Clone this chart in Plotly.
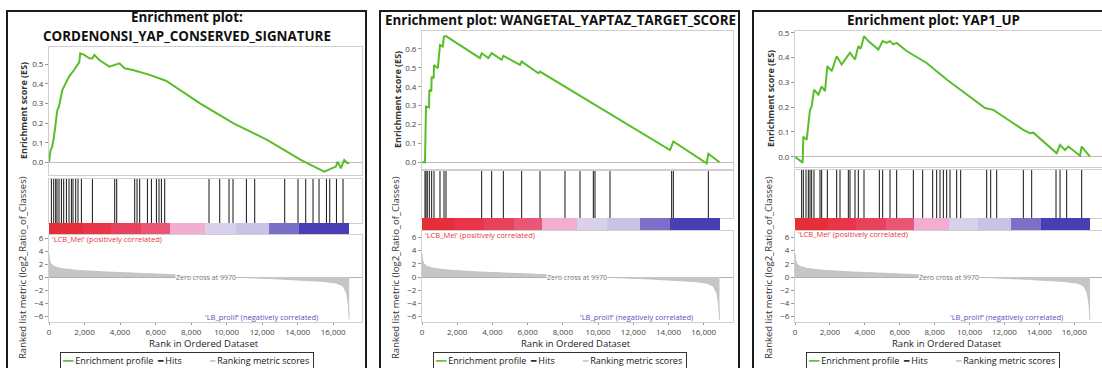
import plotly.graph_objects as go

W, H = 1102, 368

# ---------------- data ----------------
metric_rank = [0, 30, 100, 300, 700, 1500, 3000, 5000, 7000, 8500, 9970, 11500,
               13000, 14500, 15500, 16200, 16550, 16750, 16850, 16900]
metric_val = [3.6, 2.6, 2.0, 1.6, 1.3, 1.05, 0.8, 0.55, 0.32, 0.15, 0.0, -0.15,
              -0.32, -0.5, -0.7, -0.95, -1.4, -2.5, -4.2, -6.5]

cbar_edges = [0, 1900, 3500, 5200, 6800, 8800, 10500, 12400, 14100, 16900]
cbar_colors = ["#e62e38", "#e8354a", "#e8435c", "#ea5676", "#f1aed0",
               "#d9d0ec", "#c9c4e6", "#7a70c8", "#4a3eb6"]

titles = ["Enrichment plot:<br>CORDENONSI_YAP_CONSERVED_SIGNATURE",
          "Enrichment plot: WANGETAL_YAPTAZ_TARGET_SCORE",
          "Enrichment plot: YAP1_UP"]

es_ticks = [[0.0, 0.1, 0.2, 0.3, 0.4, 0.5],
            [0.0, 0.1, 0.2, 0.3, 0.4, 0.5, 0.6],
            [0.0, 0.1, 0.2, 0.3, 0.4, 0.5]]
metric_ticks = [6, 4, 2, 0, -2, -4, -6]
rank_ticks = [0, 2000, 4000, 6000, 8000, 10000, 12000, 14000, 16000]

es1_rank = [0, 90, 180, 280, 470, 560, 750, 940, 1130, 1410, 1600, 1700, 1760, 1980,
            2270, 2440, 2550, 2830, 3400, 3680, 3970, 4250, 4720, 5670, 6610, 8500,
            10390, 12280, 14170, 15490, 16150, 16250, 16430, 16620, 16800, 16900]
es1_val = [0.0, 0.063, 0.08, 0.131, 0.267, 0.284, 0.369, 0.403, 0.437, 0.471, 0.497, 0.51,
           0.556, 0.548, 0.531, 0.53, 0.548, 0.522, 0.488, 0.497, 0.505, 0.48, 0.471,
           0.446, 0.415, 0.301, 0.199, 0.114, 0.012, -0.048, -0.022, 0.003, -0.031,
           0.012, -0.005, 0.0]
hits1 = [135, 265, 377, 450, 563, 698, 828, 980, 1126, 1261, 1351, 1503, 1633, 1824,
         2443, 3699, 3812, 4825, 4955, 5106, 5540, 5765, 6047, 6193, 6328, 6514,
         9008, 9610, 10134, 10359, 11113, 11581, 13270, 14019, 14452, 14864, 15201,
         15618, 15804, 16181, 16552]

es2_rank = [0, 170, 227, 400, 416, 530, 549, 665, 682, 900, 1022, 1174, 1250, 1363,
            3294, 3389, 3768, 3957, 4525, 4620, 5566, 5661, 6608, 6702, 14086, 14276,
            16169, 16264, 16900]
es2_val = [0.0, 0.0, 0.295, 0.29, 0.383, 0.375, 0.453, 0.445, 0.515, 0.498, 0.621,
           0.612, 0.665, 0.668, 0.551, 0.577, 0.551, 0.577, 0.542, 0.563, 0.516, 0.533,
           0.471, 0.48, 0.065, 0.11, -0.005, 0.045, 0.0]
hits2 = [170, 227, 300, 416, 549, 682, 1022, 1250, 1363, 3389, 3957, 4620, 5661, 6702,
         8122, 8974, 9731, 9826, 10678, 14181, 14276, 16264]

es3_rank = [0, 439, 477, 668, 860, 955, 1089, 1337, 1528, 1719, 1853, 2101, 2388, 2674,
            3152, 3438, 3629, 3763, 3954, 4202, 4775, 5023, 5252, 5443, 5634, 5825,
            6398, 7544, 8690, 10219, 10887, 11364, 11937, 13083, 13466, 13657, 14994,
            15185, 15471, 15662, 16331, 16426, 16900]
es3_val = [0.0, -0.024, 0.081, 0.068, 0.189, 0.203, 0.27, 0.25, 0.284, 0.264, 0.365,
           0.345, 0.405, 0.372, 0.419, 0.392, 0.446, 0.435, 0.486, 0.466, 0.432, 0.466,
           0.459, 0.466, 0.453, 0.459, 0.426, 0.378, 0.311, 0.23, 0.196, 0.189, 0.162,
           0.108, 0.095, 0.097, 0.014, 0.047, 0.027, 0.041, 0.004, 0.041, 0.0]
hits3 = [382, 477, 630, 764, 860, 955, 1089, 1433, 1528, 1853, 2388, 2579, 3056, 3152,
         3438, 3629, 3954, 4832, 5023, 5443, 5825, 6780, 7315, 7888, 8117, 8308, 8499,
         8690, 8881, 9263, 9492, 10983, 11212, 11556, 13083, 13561, 14955, 15185,
         15566, 16426]

es_ranks = [es1_rank, es2_rank, es3_rank]
es_vals = [es1_val, es2_val, es3_val]
hits_all = [hits1, hits2, hits3]

# ---------------- layout geometry (pixels) ----------------
panels = [
    dict(frame=(7, 366), xdom=(49, 362), xmax=17620, es=(47, 175), es_zero=162.3, es_px=196,
         hits=(179, 223), cbar=(223, 234), met=(235, 322), met_px=6.5,
         title_y=(17, 36), title_x=187, pos_y=239, neg_xr=320),
    dict(frame=(380, 739), xdom=(422, 733), xmax=17665, es=(31, 169), es_zero=162.3, es_px=189,
         hits=(171, 218), cbar=(218, 230), met=(231, 322), met_px=6.6,
         title_y=(20,), title_x=560, pos_y=235, neg_xr=695),
    dict(frame=(753, 1120), xdom=(795, 1102), xmax=17590, es=(31, 167), es_zero=156.7, es_px=248,
         hits=(170, 218), cbar=(218, 230), met=(231, 322), met_px=6.6,
         title_y=(20,), title_x=933, pos_y=234, neg_xr=1065),
]
MET_ZERO = 277

GREEN = "#58be2a"
FONT = "Open Sans, Liberation Sans, sans-serif"
AXC = "#cfcfcf"


def fx(px):
    return px / W


def fy(py):
    return 1 - py / H


def name(i, a):
    return f"{a}axis" if i == 1 else f"{a}axis{i}"


def ref(i, a):
    return a if i == 1 else f"{a}{i}"


def note(text, x, y, size, color, xanchor="center", yanchor="middle", **kw):
    d = dict(text=text, x=fx(x), y=fy(y), xref="paper", yref="paper", showarrow=False,
             xanchor=xanchor, yanchor=yanchor, font=dict(size=size, color=color, family=FONT))
    d.update(kw)
    return d


fig = go.Figure()
lay = {}
annotations = []
shapes = []

nb = len(cbar_colors)
cscale = []
for i, c in enumerate(cbar_colors):
    cscale.append([i / nb, c])
    cscale.append([(i + 1) / nb, c])

for p, P in enumerate(panels):
    base = p * 4
    k_es, k_hit, k_cb, k_met = base + 1, base + 2, base + 3, base + 4
    xd = [fx(P["xdom"][0]), fx(min(P["xdom"][1], W))]

    # ES axis
    es_lo = -(P["es"][1] - P["es_zero"]) / P["es_px"]
    es_hi = (P["es_zero"] - P["es"][0]) / P["es_px"]
    lay[name(k_es, "x")] = dict(domain=xd, range=[0, P["xmax"]], anchor=ref(k_es, "y"),
                                showticklabels=False, showgrid=False, zeroline=False,
                                showline=True, mirror=True, linecolor=AXC, linewidth=1, ticks="")
    lay[name(k_es, "y")] = dict(domain=[fy(P["es"][1]), fy(P["es"][0])], range=[es_lo, es_hi],
                                anchor=ref(k_es, "x"), tickvals=es_ticks[p], tickformat=".1f",
                                tickfont=dict(size=8, color="#444", family=FONT),
                                ticks="outside", ticklen=3, tickcolor="#999",
                                showgrid=False, zeroline=True, zerolinecolor="#c9b9b9",
                                zerolinewidth=1, showline=True, mirror=True, linecolor=AXC)
    fig.add_trace(go.Scatter(x=es_ranks[p], y=es_vals[p], mode="lines",
                             line=dict(color=GREEN, width=2), xaxis=ref(k_es, "x"),
                             yaxis=ref(k_es, "y"), showlegend=False, hoverinfo="skip"))

    # hits axis
    lay[name(k_hit, "x")] = dict(domain=xd, range=[0, P["xmax"]], anchor=ref(k_hit, "y"),
                                 showticklabels=False, showgrid=False, zeroline=False,
                                 showline=True, mirror=True, linecolor=AXC, ticks="")
    lay[name(k_hit, "y")] = dict(domain=[fy(P["hits"][1]), fy(P["hits"][0])], range=[0, 1],
                                 anchor=ref(k_hit, "x"), showticklabels=False, showgrid=False,
                                 zeroline=False, showline=True, mirror=True, linecolor=AXC, ticks="")
    hx, hy = [], []
    for r in hits_all[p]:
        hx += [r, r, None]
        hy += [0, 1, None]
    fig.add_trace(go.Scatter(x=hx, y=hy, mode="lines", line=dict(color="#151515", width=1),
                             xaxis=ref(k_hit, "x"), yaxis=ref(k_hit, "y"),
                             showlegend=False, hoverinfo="skip"))

    # color bar axis
    lay[name(k_cb, "x")] = dict(domain=xd, range=[0, P["xmax"]], anchor=ref(k_cb, "y"),
                                showticklabels=False, showgrid=False, zeroline=False,
                                showline=False, ticks="")
    lay[name(k_cb, "y")] = dict(domain=[fy(P["cbar"][1]), fy(P["cbar"][0])], range=[0, 1],
                                anchor=ref(k_cb, "x"), showticklabels=False, showgrid=False,
                                zeroline=False, showline=False, ticks="")
    fig.add_trace(go.Heatmap(x=cbar_edges, y=[0, 1], z=[list(range(nb))], zmin=0, zmax=nb - 1,
                             colorscale=cscale, showscale=False, hoverinfo="skip",
                             xaxis=ref(k_cb, "x"), yaxis=ref(k_cb, "y")))

    # metric axis
    m_hi = (MET_ZERO - P["met"][0]) / P["met_px"]
    m_lo = -(P["met"][1] - MET_ZERO) / P["met_px"]
    lay[name(k_met, "x")] = dict(domain=xd, range=[0, P["xmax"]], anchor=ref(k_met, "y"),
                                 tickvals=rank_ticks, tickformat=",d",
                                 tickfont=dict(size=8, color="#444", family=FONT),
                                 ticks="outside", ticklen=2, tickcolor="#999",
                                 showgrid=False, zeroline=False,
                                 showline=True, mirror=True, linecolor=AXC)
    lay[name(k_met, "y")] = dict(domain=[fy(P["met"][1]), fy(P["met"][0])], range=[m_lo, m_hi],
                                 anchor=ref(k_met, "x"), tickvals=metric_ticks,
                                 tickfont=dict(size=8, color="#444", family=FONT),
                                 ticks="outside", ticklen=3, tickcolor="#999",
                                 showgrid=False, zeroline=True, zerolinecolor="#b0b0b0",
                                 zerolinewidth=1, showline=True, mirror=True, linecolor=AXC)
    fig.add_trace(go.Scatter(x=metric_rank, y=metric_val, mode="lines", fill="tozeroy",
                             fillcolor="#c6c6c6", line=dict(color="#bdbdbd", width=0.8),
                             xaxis=ref(k_met, "x"), yaxis=ref(k_met, "y"),
                             showlegend=False, hoverinfo="skip"))

    # frame
    f0, f1 = P["frame"]
    shapes.append(dict(type="rect", xref="paper", yref="paper", x0=fx(f0), x1=fx(f1),
                       y0=fy(H + 10), y1=fy(11), line=dict(color="#1c1c1c", width=2),
                       fillcolor="rgba(0,0,0,0)", layer="above"))

    # titles
    tparts = titles[p].split("<br>")
    for line_txt, ty in zip(tparts, P["title_y"]):
        annotations.append(note("<b>" + line_txt + "</b>", P["title_x"], ty, 13.4, "#111"))

    ax0 = P["xdom"][0]
    ax1 = min(P["xdom"][1], W + 10)
    # y titles
    annotations.append(note("<b>Enrichment score (ES)</b>", ax0 - 25, (P["es"][0] + P["es"][1]) / 2,
                            9, "#333", textangle=-90))
    annotations.append(note("Ranked list metric (log2_Ratio_of_Classes)", ax0 - 27, 268,
                            9.5, "#333", textangle=-90))
    # x title
    annotations.append(note("Rank in Ordered Dataset", (ax0 + ax1) / 2 - 2, 343, 9.5, "#222"))
    # class labels
    annotations.append(note("'LCB_Mel' (positively correlated)", ax0 + 1, P["pos_y"], 7.5,
                            "#e8323c", xanchor="left"))
    annotations.append(note("'LB_prolif' (negatively correlated)", P["neg_xr"], 317, 7.5,
                            "#5a4fc0", xanchor="right"))
    # zero cross
    annotations.append(dict(text="Zero cross at 9970", x=8830, y=0, xref=ref(k_met, "x"),
                            yref=ref(k_met, "y"), showarrow=False, xanchor="center",
                            yanchor="middle", bgcolor="rgba(255,255,255,0.9)", borderpad=0,
                            font=dict(size=7, color="#777", family=FONT)))
    # legend box
    leg = ('<span style="color:%s">━━</span>&nbsp;Enrichment profile&nbsp;&nbsp;'
           '<span style="color:#111111">━</span>&nbsp;Hits' + '&nbsp;' * 12 +
           '<span style="color:#c4c4c4">━</span>&nbsp;Ranking metric scores&nbsp;') % GREEN
    annotations.append(note(leg, ax0 + 11, 352, 9, "#151515", xanchor="left", yanchor="top",
                            align="left", bordercolor="#333", borderwidth=1, borderpad=1,
                            bgcolor="white"))

fig.update_layout(width=W, height=H, margin=dict(l=0, r=0, t=0, b=0, autoexpand=False),
                  paper_bgcolor="white", plot_bgcolor="white", showlegend=False,
                  annotations=annotations, shapes=shapes, **lay)

fig.write_html("out.html")
